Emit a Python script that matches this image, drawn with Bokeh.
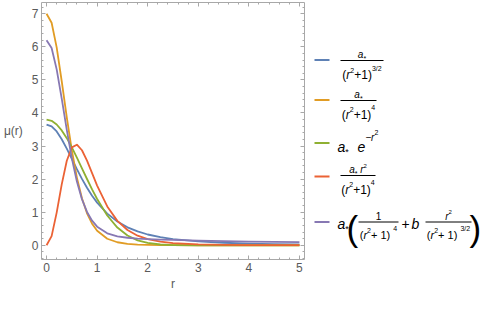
from bokeh.plotting import figure
from bokeh.models import Range1d, LinearAxis, SingleIntervalTicker, ColumnDataSource
from bokeh.layouts import row
from bokeh.embed import file_html
from bokeh.resources import INLINE
from bokeh.core.properties import value

# ---------------- data ----------------
r_vals = [0, 0.1, 0.2, 0.3, 0.4, 0.5, 0.6, 0.7, 0.8, 0.9, 1.0, 1.2, 1.4, 1.6,
          1.8, 2.0, 2.25, 2.5, 3.0, 3.5, 4.0, 4.5, 5.0]
mu_blue = [3.65, 3.596, 3.441, 3.207, 2.921, 2.612, 2.301, 2.007, 1.738, 1.499,
           1.290, 0.958, 0.717, 0.543, 0.418, 0.326, 0.245, 0.187, 0.115,
           0.0757, 0.0521, 0.0373, 0.0275]
mu_orange = [7.0, 6.727, 5.983, 4.959, 3.866, 2.867, 2.046, 1.420, 0.968, 0.652,
             0.4375, 0.1975, 0.0912, 0.0436, 0.0217, 0.0112, 0.0052, 0.0025,
             0.0007, 0.0002, 0.0001, 0.0, 0.0]
mu_green = [3.8, 3.762, 3.651, 3.473, 3.238, 2.959, 2.651, 2.328, 2.004, 1.690,
            1.398, 0.900, 0.535, 0.294, 0.149, 0.0696, 0.024, 0.0073, 0.0005,
            0.0, 0.0, 0.0, 0.0]
mu_red = [0.0, 0.278, 0.988, 1.843, 2.554, 2.959, 3.041, 2.873, 2.557, 2.181,
          1.806, 1.174, 0.738, 0.461, 0.290, 0.185, 0.108, 0.0654, 0.026,
          0.0115, 0.0055, 0.0029, 0.0016]
mu_purple = [6.2, 5.963, 5.318, 4.431, 3.488, 2.628, 1.925, 1.392, 1.008, 0.743,
             0.563, 0.362, 0.272, 0.228, 0.203, 0.187, 0.173, 0.161, 0.142,
             0.126, 0.113, 0.1025, 0.0935]

series = [mu_blue, mu_orange, mu_green, mu_red, mu_purple]
colors = ["#5E81B5", "#E19C24", "#8FB032", "#EB6235", "#8778B3"]

x_label = "r"
y_label = "μ(r)"

FONT = "Liberation Sans"
AXIS_GRAY = "#a8a8a8"
LABEL_GRAY = "#5a5a5a"

H = 293          # figure height
TOP = 2          # border above the frames
BOTTOM = 34      # border below the frames (x axis of the main plot)
W1 = 312         # width of the main plot figure
LW = 170         # width of the legend figure

# ---------------- main plot ----------------
p = figure(width=W1, height=H, x_range=Range1d(-0.1, 5.1),
           y_range=Range1d(-0.43, 7.34), output_backend="svg",
           toolbar_location=None, min_border_left=0, min_border_right=8,
           min_border_top=TOP, min_border_bottom=BOTTOM, title=None)
p.grid.visible = False
p.outline_line_color = None


def style_axis(ax, labels=True):
    ax.ticker = SingleIntervalTicker(interval=1, num_minor_ticks=5)
    ax.axis_line_color = AXIS_GRAY
    ax.major_tick_line_color = AXIS_GRAY
    ax.minor_tick_line_color = AXIS_GRAY
    ax.major_tick_in = 4
    ax.major_tick_out = 0
    ax.minor_tick_in = 2
    ax.minor_tick_out = 0
    ax.major_label_text_font = FONT
    if labels:
        ax.major_label_text_font_size = "12px"
        ax.major_label_text_color = LABEL_GRAY
        ax.major_label_standoff = 3
    else:
        ax.major_label_text_font_size = "0px"
        ax.major_label_text_color = None
        ax.major_label_standoff = 0


style_axis(p.xaxis[0])
style_axis(p.yaxis[0])
p.xaxis.axis_label = x_label
p.yaxis.axis_label = y_label
for ax in (p.xaxis[0], p.yaxis[0]):
    ax.axis_label_text_font = FONT
    ax.axis_label_text_font_size = "12px"
    ax.axis_label_text_font_style = "normal"
    ax.axis_label_text_color = LABEL_GRAY
p.yaxis[0].axis_label_orientation = "horizontal"
p.yaxis[0].axis_label_standoff = 6
p.xaxis[0].axis_label_standoff = 2

top = LinearAxis()
style_axis(top, labels=False)
p.add_layout(top, "above")
right = LinearAxis()
style_axis(right, labels=False)
p.add_layout(right, "right")

for ys, c in zip(series, colors):
    p.line(r_vals, ys, line_color=c, line_width=1.8, line_join="round")

# ---------------- legend (typeset formulas) ----------------
# The legend figure's frame shares the main frame's vertical extent
# (TOP .. H-BOTTOM); its data units are page pixels, y downwards.
lg = figure(width=LW, height=H, x_range=Range1d(W1, W1 + LW),
            y_range=Range1d(H - BOTTOM, TOP), output_backend="svg",
            toolbar_location=None, min_border_left=0, min_border_right=0,
            min_border_top=TOP, min_border_bottom=BOTTOM, title=None,
            x_axis_location=None, y_axis_location=None)
lg.grid.visible = False
lg.outline_line_color = None

CW = {'(': 0.333, ')': 0.333, 'r': 0.333, '+': 0.584, '1': 0.556, '2': 0.556,
      '3': 0.556, '4': 0.556, '/': 0.278, 'a': 0.556, 'e': 0.556, 'b': 0.556,
      '*': 0.389, ' ': 0.278, '−': 0.584}
TEXT_DY = -2.5   # compensation of the renderer's baseline placement


def tw(s, size):
    return sum(CW.get(ch, 0.556) for ch in s) * size


pieces = dict(x=[], y=[], text=[], size=[], style=[])


def put(x, y, s, size, italic=False):
    pieces['x'].append(x)
    pieces['y'].append(y + TEXT_DY)
    pieces['text'].append(s)
    pieces['size'].append(f"{size}px")
    pieces['style'].append("italic" if italic else "normal")


def run(x, base, parts):
    for s, size, it, rise in parts:
        put(x, base + rise, s, size, it)
        x += tw(s, size)
    return x


def run_w(parts):
    return sum(tw(s, size) for s, size, _, _ in parts)


def centered(cx, base, parts):
    run(cx - run_w(parts) / 2, base, parts)


bars = dict(x0=[], x1=[], y=[])


def bar(x0, x1, y):
    bars['x0'].append(x0)
    bars['x1'].append(x1)
    bars['y'].append(y)


a_star_small = [("a", 10, True, 0), ("*", 7, False, 3.5)]
a_star_big = [("a", 14, True, 0), ("*", 9, False, 5)]


def denom(size, exp, spaced=False):
    plus = " + 1)" if spaced else "+1)"
    return [("(", size, False, 0), ("r", size, True, 0), ("2", 7, False, -5),
            (plus, size, False, 0), (exp, 7, False, -7)]


sw_y = [59.5, 99.5, 142.5, 176, 221.5]
lg.segment(x0=314, x1=329, y0=sw_y, y1=sw_y, line_color=colors,
           line_width=1.8)

NUM = -3.5   # numerator baseline relative to the fraction bar

# entry 1: a*/(r^2+1)^(3/2)
b1 = 60
bar(340, 383, b1)
centered(361.5, b1 + NUM, a_star_small)
centered(361.5, b1 + 17, denom(12, "3/2"))

# entry 2: a*/(r^2+1)^4
b2 = 100
bar(340, 376, b2)
centered(358, b2 + NUM, a_star_small)
centered(358, b2 + 16.5, denom(12, "4"))

# entry 3: a* e^{-r^2}
b3 = 148.5
run(337, b3, a_star_big)
run(357, b3, [("e", 14, True, 0), ("−r", 10, True, -9), ("2", 7, False, -14)])

# entry 4: a* r^2/(r^2+1)^4
b4 = 175
bar(340, 375, b4)
centered(357.5, b4 + NUM, a_star_small + [(" ", 10, False, 0), ("r", 10, True, 0),
                                          ("2", 6, False, -4)])
centered(357.5, b4 + 16.5, denom(12, "4"))

# entry 5: a*(1/(r^2+1)^4 + b r^2/(r^2+1)^(3/2))
b5 = 221.5
run(337, b5 + 4.4, a_star_big)
put(346, b5 + 9, "(", 35)
bar(358, 398, b5)
centered(378, b5 + NUM, [("1", 10, False, 0)])
centered(378, b5 + 15.5, denom(11, "4", spaced=True))
put(401, b5 + 4.4, "+", 14)
put(411, b5 + 4.4, "b", 14, True)
bar(425, 471, b5)
centered(448, b5 + NUM, [("r", 10, True, 0), ("2", 6, False, -4)])
centered(448, b5 + 15.5, denom(11, "3/2", spaced=True))
put(469, b5 + 9, ")", 35)

lg.segment(x0='x0', x1='x1', y0='y', y1='y', source=ColumnDataSource(bars),
           line_color="black", line_width=1)
lg.text(x='x', y='y', text='text', source=ColumnDataSource(pieces),
        text_font=value(FONT), text_font_size='size', text_font_style='style',
        text_align="left", text_baseline="alphabetic", text_color="black")

layout = row(p, lg)
open("out.html", "w").write(file_html(layout, INLINE))
